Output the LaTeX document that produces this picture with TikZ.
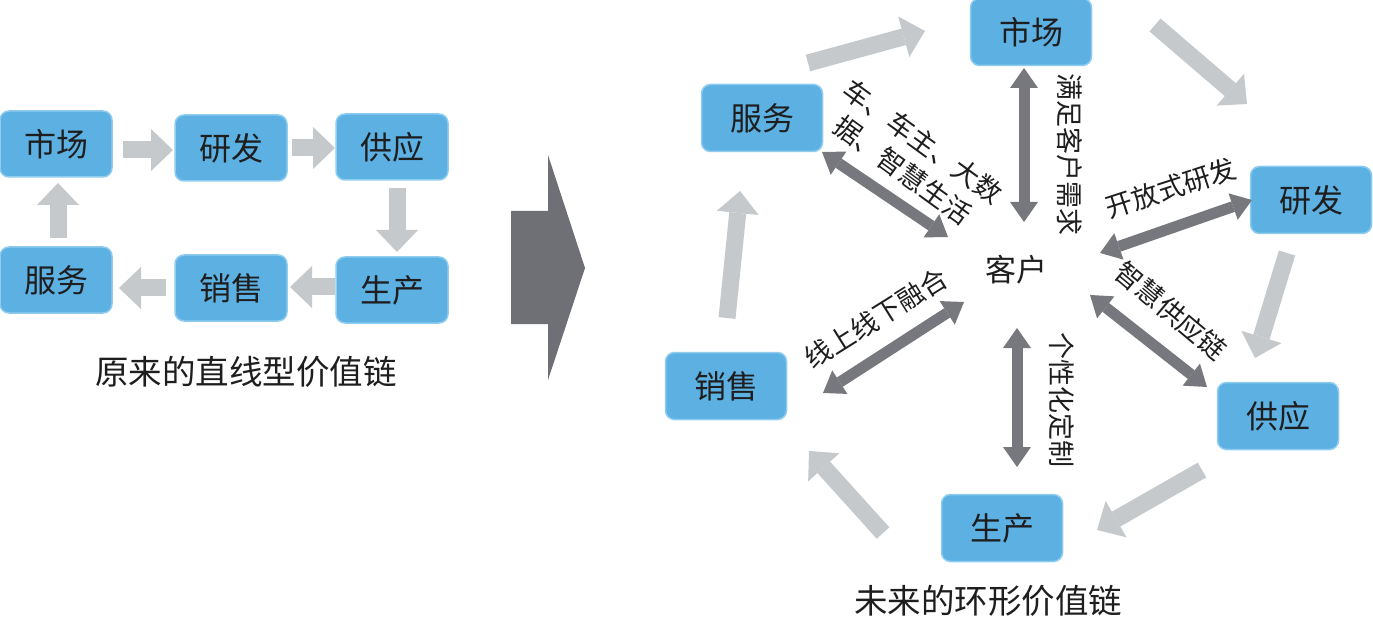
\documentclass[tikz,border=0pt]{standalone}
\usepackage{fontspec}
\setmainfont{Noto Sans CJK SC}
\usetikzlibrary{arrows.meta}
\definecolor{boxblue}{HTML}{5DB0E2}
\definecolor{boxedge}{HTML}{8ECDEF}
\definecolor{lgray}{HTML}{C6C9CB}
\definecolor{dgray}{HTML}{76787D}
\definecolor{bigc}{HTML}{6E7075}
\definecolor{txt}{HTML}{1E1E1E}
\begin{document}
\begin{tikzpicture}[x=1pt,y=-1pt,
 box/.style={fill=boxblue, draw=boxedge, line width=1.5pt, rounded corners=9pt,
   minimum width=112pt, minimum height=66pt, inner sep=0pt, text=txt,
   font=\fontsize{32}{38}\selectfont},
 rbox/.style={box, minimum width=121pt, minimum height=67pt},
 flow/.style={draw=lgray, line width=17pt, -{Triangle[width=42pt,length=22pt,line width=0pt]}},
 link/.style={draw=dgray, line width=11pt,
   {Triangle[width=28pt,length=20pt,line width=0pt]}-{Triangle[width=28pt,length=20pt,line width=0pt]}},
 lbl/.style={text=txt, font=\fontsize{27}{36}\selectfont, inner sep=0pt},
 captxt/.style={text=txt, font=\fontsize{33.5}{40}\selectfont, inner sep=0pt}
]
\useasboundingbox (0,0) rectangle (1373,620);
\fill[white] (0,0) rectangle (1373,620);

% ---------- left: linear value chain ----------
\node[box] (lm) at (56,144) {市场};
\node[box] (ly) at (231,148) {研发};
\node[box] (lg) at (392,147) {供应};
\node[box] (lf) at (56,280) {服务};
\node[box] (lx) at (231,288) {销售};
\node[box] (ls) at (392,290) {生产};

\coordinate (a1s) at (123,150); \coordinate (a1e) at (173,150);
\coordinate (a2s) at (292,148); \coordinate (a2e) at (335,148);
\coordinate (a3s) at (397,188); \coordinate (a3e) at (397,252);
\coordinate (a4s) at (335,287); \coordinate (a4e) at (290,287);
\coordinate (a5s) at (166,288); \coordinate (a5e) at (119,288);
\coordinate (a6s) at (58,238);  \coordinate (a6e) at (58,183);
\draw[flow] (a1s) -- (a1e);
\draw[flow] (a2s) -- (a2e);
\draw[flow] (a3s) -- (a3e);
\draw[flow] (a4s) -- (a4e);
\draw[flow] (a5s) -- (a5e);
\draw[flow] (a6s) -- (a6e);

\node[captxt] (lcap) at (246,372) {原来的直线型价值链};

% ---------- big arrow ----------
\fill[bigc] (511,211) -- (548,211) -- (548,155) -- (585,268) -- (548,380) -- (548,324) -- (511,324) -- cycle;

% ---------- right: ring value chain ----------
\node[rbox] (rm) at (1031,32) {市场};
\node[rbox] (rf) at (762,118) {服务};
\node[rbox] (ry) at (1311,200) {研发};
\node[rbox] (rg) at (1278,416) {供应};
\node[rbox] (rs) at (1002,528) {生产};
\node[rbox] (rx) at (726,386) {销售};
\node[lbl, font=\fontsize{31}{36}\selectfont] (kh) at (1016,270) {客户};

\coordinate (b1s) at (808,63);   \coordinate (b1e) at (925,31);
\coordinate (b2s) at (1155,25);  \coordinate (b2e) at (1247,104);
\coordinate (b3s) at (1287,253); \coordinate (b3e) at (1255,358);
\coordinate (b4s) at (1202,470); \coordinate (b4e) at (1097,530);
\coordinate (b5s) at (883,533);  \coordinate (b5e) at (809,451);
\coordinate (b6s) at (727,318);  \coordinate (b6e) at (740,191);
\draw[flow] (b1s) -- (b1e);
\draw[flow] (b2s) -- (b2e);
\draw[flow] (b3s) -- (b3e);
\draw[flow] (b4s) -- (b4e);
\draw[flow] (b5s) -- (b5e);
\draw[flow] (b6s) -- (b6e);

\coordinate (c1a) at (1024,68);  \coordinate (c1b) at (1024,222);
\coordinate (c2a) at (822,152);  \coordinate (c2b) at (948,237);
\coordinate (c3a) at (1252,200); \coordinate (c3b) at (1100,253);
\coordinate (c4a) at (1207,387); \coordinate (c4b) at (1090,295);
\coordinate (c5a) at (1017,328); \coordinate (c5b) at (1017,467);
\coordinate (c6a) at (823,393);  \coordinate (c6b) at (964,302);
\draw[link] (c1a) -- (c1b);
\draw[link] (c2a) -- (c2b);
\draw[link] (c3a) -- (c3b);
\draw[link] (c4a) -- (c4b);
\draw[link] (c5a) -- (c5b);
\draw[link] (c6a) -- (c6b);

\node[lbl, rotate=-90] (t1) at (1070,155) {满足客户需求};
\node[lbl, rotate=-90] (t5) at (1062,400) {个性化定制};
\node[lbl, rotate=18] (t3) at (1171,188) {开放式研发};
\node[lbl, rotate=-40] (t4) at (1171,311) {智慧供应链};
\node[lbl, rotate=32] (t6) at (876,318) {线上线下融合};
\node[lbl, rotate=-36, align=center, font=\fontsize{27}{35}\selectfont] (t2) at (913,156) {车、车主、大数\\据、智慧生活};

\node[captxt] (rcap) at (988,601) {未来的环形价值链};
\end{tikzpicture}
\end{document}
